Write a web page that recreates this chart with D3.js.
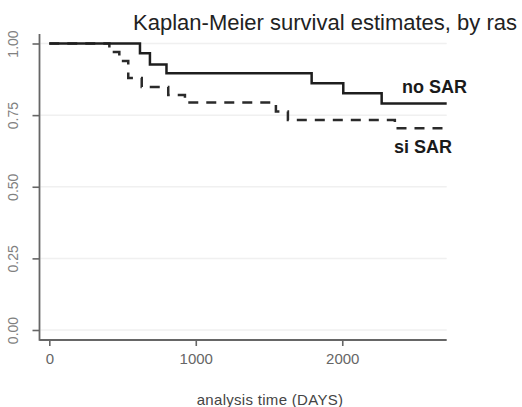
<!DOCTYPE html>
<html>
<head>
<meta charset="utf-8">
<script src="https://cdn.jsdelivr.net/npm/d3@7"></script>
<style>
  html, body { margin: 0; padding: 0; background: #fff; }
  svg { display: block; }
</style>
</head>
<body>
<div id="chart"></div>
<script>
// Kaplan-Meier step estimates (time in days, survival probability)
const noSarTimes = [0, 619, 687, 800, 1791, 2007, 2269, 2713];
const noSarSurv  = [1.0, 0.966, 0.927, 0.896, 0.861, 0.826, 0.791, 0.791];
const siSarTimes = [0, 410, 478, 539, 631, 812, 926, 1547, 1629, 2359, 2713];
const siSarSurv  = [1.0, 0.970, 0.939, 0.880, 0.848, 0.820, 0.794, 0.763, 0.733, 0.704, 0.704];

const xTicks = [0, 1000, 2000];
const yTicks = [0, 0.25, 0.5, 0.75, 1.0];
const seriesLabels = [
  { text: "no SAR", t: 2408, s: 0.828 },
  { text: "si SAR", t: 2353, s: 0.617 }
];
const titleText = "Kaplan-Meier survival estimates, by ras";
const xTitle = "analysis time (DAYS)";

const W = 522, H = 407;
const svg = d3.select("#chart").append("svg").attr("width", W).attr("height", H);

const x = d3.scaleLinear().domain([0, 2713]).range([49.3, 446.7]);
const y = d3.scaleLinear().domain([0, 1]).range([330, 43.5]);
const axisLeftX = 39.5, axisBottomY = 340, plotRight = 446.7, plotTop = 34;

// horizontal grid lines
svg.append("g").selectAll("line").data(yTicks).join("line")
  .attr("x1", axisLeftX + 1).attr("x2", plotRight)
  .attr("y1", d => y(d)).attr("y2", d => y(d))
  .attr("stroke", "#f0f0f0").attr("stroke-width", 1.5);

// y axis
const yAxis = svg.append("g").attr("transform", `translate(${axisLeftX},0)`)
  .call(d3.axisLeft(y).tickValues(yTicks).tickSize(7).tickFormat(d3.format(".2f")));
yAxis.select(".domain").remove();
yAxis.selectAll(".tick line").attr("stroke", "#666").attr("stroke-width", 1.6);
yAxis.selectAll(".tick text")
  .attr("transform", "rotate(-90)")
  .attr("x", 0).attr("y", -22).attr("dy", "0")
  .attr("text-anchor", "middle")
  .attr("fill", "#808080")
  .style("font-family", "Arial, 'Liberation Sans', sans-serif")
  .style("font-size", "14px");

// x axis
const xAxis = svg.append("g").attr("transform", `translate(0,${axisBottomY})`)
  .call(d3.axisBottom(x).tickValues(xTicks).tickSize(6).tickFormat(d3.format("d")));
xAxis.select(".domain").remove();
xAxis.selectAll(".tick line").attr("stroke", "#666").attr("stroke-width", 1.6);
xAxis.selectAll(".tick text")
  .attr("y", 24).attr("dy", "0")
  .attr("fill", "#666")
  .style("font-family", "Arial, 'Liberation Sans', sans-serif")
  .style("font-size", "15px");

// axis lines
svg.append("line").attr("x1", axisLeftX).attr("x2", axisLeftX)
  .attr("y1", plotTop).attr("y2", axisBottomY + 0.8)
  .attr("stroke", "#666").attr("stroke-width", 1.8);
svg.append("line").attr("x1", axisLeftX).attr("x2", plotRight)
  .attr("y1", axisBottomY).attr("y2", axisBottomY)
  .attr("stroke", "#666").attr("stroke-width", 1.8);

// survival curves
const line = d3.line().x(d => x(d[0])).y(d => y(d[1])).curve(d3.curveStepAfter);
const siData = siSarTimes.map((t, i) => [t, siSarSurv[i]]);
const noData = noSarTimes.map((t, i) => [t, noSarSurv[i]]);

svg.append("path").datum(siData).attr("d", line)
  .attr("fill", "none").attr("stroke", "#2a2a2a").attr("stroke-width", 2.5)
  .attr("stroke-dasharray", "10,8");
svg.append("path").datum(noData).attr("d", line)
  .attr("fill", "none").attr("stroke", "#1e1e1e").attr("stroke-width", 2.5);

// series labels
svg.append("g").selectAll("text").data(seriesLabels).join("text")
  .attr("x", d => x(d.t)).attr("y", d => y(d.s))
  .attr("fill", "#1a1a1a")
  .style("font-family", "Arial, 'Liberation Sans', sans-serif")
  .style("font-weight", "bold").style("font-size", "18px")
  .text(d => d.text);

// title
svg.append("text").attr("x", 517).attr("y", 29.5).attr("text-anchor", "end")
  .attr("fill", "#222")
  .style("font-family", "Arial, 'Liberation Sans', sans-serif")
  .style("font-size", "22px")
  .text(titleText);

// x axis title
svg.append("text").attr("x", 270).attr("y", 405).attr("text-anchor", "middle")
  .attr("fill", "#444")
  .style("font-family", "Arial, 'Liberation Sans', sans-serif")
  .style("font-size", "15px")
  .style("letter-spacing", "0.3px")
  .text(xTitle);
</script>
</body>
</html>
